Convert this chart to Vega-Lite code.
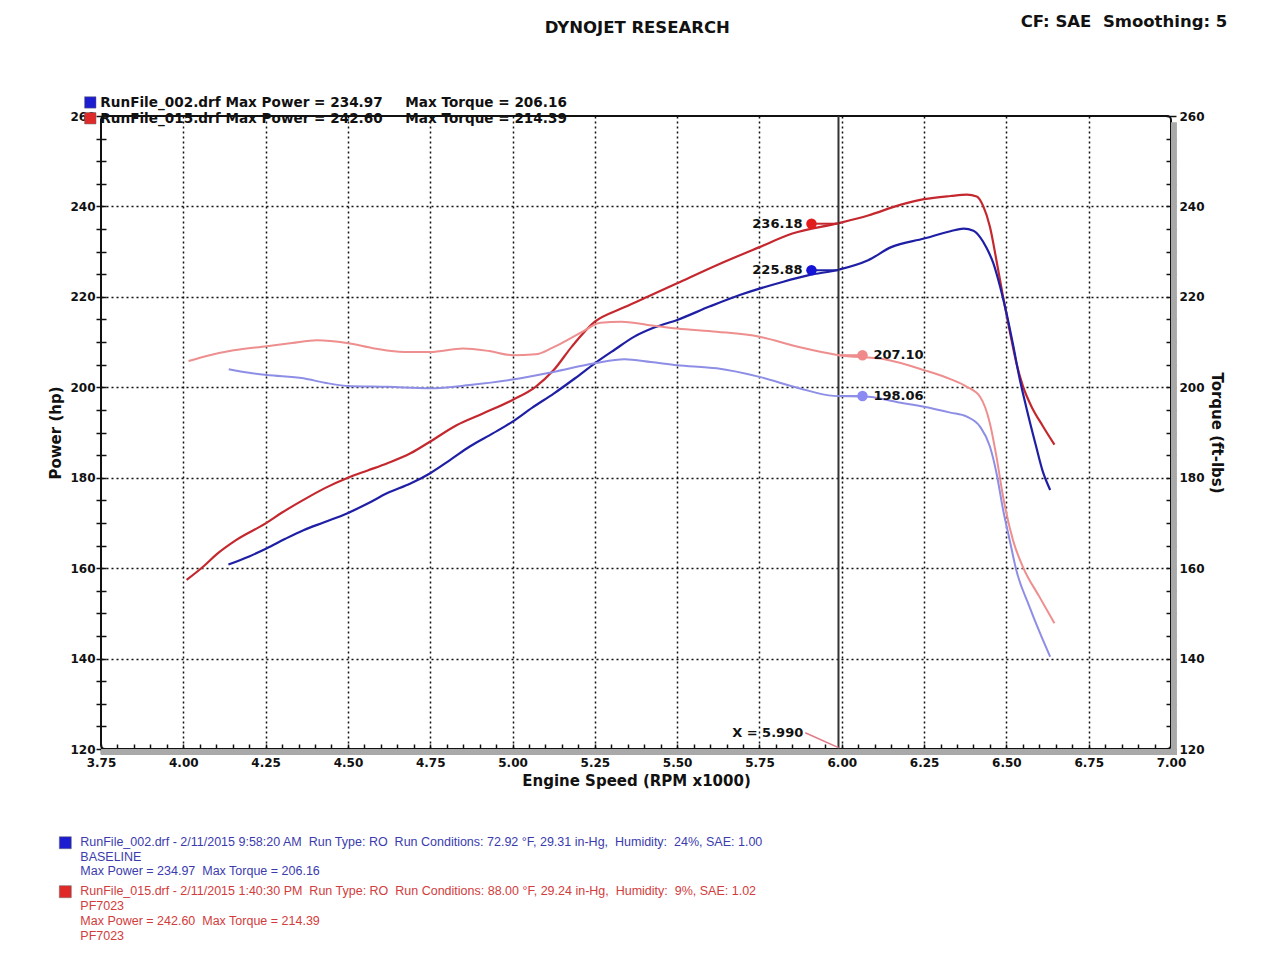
{
  "$schema": "https://vega.github.io/schema/vega-lite/v6.json",
  "width": 1070,
  "height": 633,
  "autosize": {"type": "none"},
  "padding": {"left": 101, "top": 116, "right": 108, "bottom": 211},
  "background": "white",
  "config": {
    "view": {"stroke": "#111", "strokeWidth": 2, "cornerRadius": 4},
    "font": "DejaVu Sans"
  },
  "datasets": {
    "curves": [
      {"rpm": 4.01, "value": 157.4, "series": "015 Power", "kind": "Power"},
      {"rpm": 4.06, "value": 160.3, "series": "015 Power", "kind": "Power"},
      {"rpm": 4.10, "value": 163.0, "series": "015 Power", "kind": "Power"},
      {"rpm": 4.16, "value": 166.2, "series": "015 Power", "kind": "Power"},
      {"rpm": 4.25, "value": 169.9, "series": "015 Power", "kind": "Power"},
      {"rpm": 4.30, "value": 172.3, "series": "015 Power", "kind": "Power"},
      {"rpm": 4.365, "value": 175.1, "series": "015 Power", "kind": "Power"},
      {"rpm": 4.43, "value": 177.7, "series": "015 Power", "kind": "Power"},
      {"rpm": 4.50, "value": 180.0, "series": "015 Power", "kind": "Power"},
      {"rpm": 4.56, "value": 181.6, "series": "015 Power", "kind": "Power"},
      {"rpm": 4.62, "value": 183.2, "series": "015 Power", "kind": "Power"},
      {"rpm": 4.69, "value": 185.4, "series": "015 Power", "kind": "Power"},
      {"rpm": 4.75, "value": 188.0, "series": "015 Power", "kind": "Power"},
      {"rpm": 4.83, "value": 191.6, "series": "015 Power", "kind": "Power"},
      {"rpm": 4.91, "value": 194.2, "series": "015 Power", "kind": "Power"},
      {"rpm": 5.00, "value": 197.2, "series": "015 Power", "kind": "Power"},
      {"rpm": 5.07, "value": 200.1, "series": "015 Power", "kind": "Power"},
      {"rpm": 5.125, "value": 203.8, "series": "015 Power", "kind": "Power"},
      {"rpm": 5.18, "value": 209.0, "series": "015 Power", "kind": "Power"},
      {"rpm": 5.25, "value": 214.5, "series": "015 Power", "kind": "Power"},
      {"rpm": 5.33, "value": 217.4, "series": "015 Power", "kind": "Power"},
      {"rpm": 5.41, "value": 220.0, "series": "015 Power", "kind": "Power"},
      {"rpm": 5.50, "value": 223.0, "series": "015 Power", "kind": "Power"},
      {"rpm": 5.62, "value": 227.0, "series": "015 Power", "kind": "Power"},
      {"rpm": 5.75, "value": 231.0, "series": "015 Power", "kind": "Power"},
      {"rpm": 5.85, "value": 234.0, "series": "015 Power", "kind": "Power"},
      {"rpm": 5.99, "value": 236.3, "series": "015 Power", "kind": "Power"},
      {"rpm": 6.08, "value": 238.0, "series": "015 Power", "kind": "Power"},
      {"rpm": 6.18, "value": 240.4, "series": "015 Power", "kind": "Power"},
      {"rpm": 6.25, "value": 241.6, "series": "015 Power", "kind": "Power"},
      {"rpm": 6.33, "value": 242.3, "series": "015 Power", "kind": "Power"},
      {"rpm": 6.38, "value": 242.6, "series": "015 Power", "kind": "Power"},
      {"rpm": 6.41, "value": 242.2, "series": "015 Power", "kind": "Power"},
      {"rpm": 6.43, "value": 240.0, "series": "015 Power", "kind": "Power"},
      {"rpm": 6.45, "value": 235.5, "series": "015 Power", "kind": "Power"},
      {"rpm": 6.47, "value": 228.0, "series": "015 Power", "kind": "Power"},
      {"rpm": 6.49, "value": 220.0, "series": "015 Power", "kind": "Power"},
      {"rpm": 6.51, "value": 212.5, "series": "015 Power", "kind": "Power"},
      {"rpm": 6.53, "value": 205.5, "series": "015 Power", "kind": "Power"},
      {"rpm": 6.55, "value": 200.3, "series": "015 Power", "kind": "Power"},
      {"rpm": 6.58, "value": 195.2, "series": "015 Power", "kind": "Power"},
      {"rpm": 6.61, "value": 191.5, "series": "015 Power", "kind": "Power"},
      {"rpm": 6.646, "value": 187.3, "series": "015 Power", "kind": "Power"},

      {"rpm": 4.137, "value": 160.8, "series": "002 Power", "kind": "Power"},
      {"rpm": 4.20, "value": 162.6, "series": "002 Power", "kind": "Power"},
      {"rpm": 4.254, "value": 164.4, "series": "002 Power", "kind": "Power"},
      {"rpm": 4.31, "value": 166.5, "series": "002 Power", "kind": "Power"},
      {"rpm": 4.365, "value": 168.4, "series": "002 Power", "kind": "Power"},
      {"rpm": 4.43, "value": 170.2, "series": "002 Power", "kind": "Power"},
      {"rpm": 4.497, "value": 172.1, "series": "002 Power", "kind": "Power"},
      {"rpm": 4.56, "value": 174.3, "series": "002 Power", "kind": "Power"},
      {"rpm": 4.62, "value": 176.6, "series": "002 Power", "kind": "Power"},
      {"rpm": 4.69, "value": 178.7, "series": "002 Power", "kind": "Power"},
      {"rpm": 4.75, "value": 181.0, "series": "002 Power", "kind": "Power"},
      {"rpm": 4.81, "value": 183.9, "series": "002 Power", "kind": "Power"},
      {"rpm": 4.87, "value": 186.9, "series": "002 Power", "kind": "Power"},
      {"rpm": 4.94, "value": 189.8, "series": "002 Power", "kind": "Power"},
      {"rpm": 5.00, "value": 192.4, "series": "002 Power", "kind": "Power"},
      {"rpm": 5.06, "value": 195.5, "series": "002 Power", "kind": "Power"},
      {"rpm": 5.125, "value": 198.6, "series": "002 Power", "kind": "Power"},
      {"rpm": 5.19, "value": 202.0, "series": "002 Power", "kind": "Power"},
      {"rpm": 5.25, "value": 205.3, "series": "002 Power", "kind": "Power"},
      {"rpm": 5.31, "value": 208.3, "series": "002 Power", "kind": "Power"},
      {"rpm": 5.37, "value": 211.2, "series": "002 Power", "kind": "Power"},
      {"rpm": 5.43, "value": 213.2, "series": "002 Power", "kind": "Power"},
      {"rpm": 5.50, "value": 214.9, "series": "002 Power", "kind": "Power"},
      {"rpm": 5.60, "value": 217.9, "series": "002 Power", "kind": "Power"},
      {"rpm": 5.69, "value": 220.4, "series": "002 Power", "kind": "Power"},
      {"rpm": 5.82, "value": 223.3, "series": "002 Power", "kind": "Power"},
      {"rpm": 5.90, "value": 224.8, "series": "002 Power", "kind": "Power"},
      {"rpm": 5.99, "value": 226.0, "series": "002 Power", "kind": "Power"},
      {"rpm": 6.08, "value": 228.1, "series": "002 Power", "kind": "Power"},
      {"rpm": 6.15, "value": 231.0, "series": "002 Power", "kind": "Power"},
      {"rpm": 6.25, "value": 232.9, "series": "002 Power", "kind": "Power"},
      {"rpm": 6.33, "value": 234.5, "series": "002 Power", "kind": "Power"},
      {"rpm": 6.37, "value": 235.1, "series": "002 Power", "kind": "Power"},
      {"rpm": 6.40, "value": 234.6, "series": "002 Power", "kind": "Power"},
      {"rpm": 6.42, "value": 233.2, "series": "002 Power", "kind": "Power"},
      {"rpm": 6.44, "value": 230.8, "series": "002 Power", "kind": "Power"},
      {"rpm": 6.46, "value": 227.5, "series": "002 Power", "kind": "Power"},
      {"rpm": 6.48, "value": 222.5, "series": "002 Power", "kind": "Power"},
      {"rpm": 6.50, "value": 216.5, "series": "002 Power", "kind": "Power"},
      {"rpm": 6.52, "value": 209.5, "series": "002 Power", "kind": "Power"},
      {"rpm": 6.54, "value": 202.0, "series": "002 Power", "kind": "Power"},
      {"rpm": 6.56, "value": 195.7, "series": "002 Power", "kind": "Power"},
      {"rpm": 6.59, "value": 187.0, "series": "002 Power", "kind": "Power"},
      {"rpm": 6.61, "value": 181.5, "series": "002 Power", "kind": "Power"},
      {"rpm": 6.633, "value": 177.3, "series": "002 Power", "kind": "Power"},

      {"rpm": 4.016, "value": 205.8, "series": "015 Torque", "kind": "Torque"},
      {"rpm": 4.08, "value": 207.1, "series": "015 Torque", "kind": "Torque"},
      {"rpm": 4.153, "value": 208.2, "series": "015 Torque", "kind": "Torque"},
      {"rpm": 4.254, "value": 209.1, "series": "015 Torque", "kind": "Torque"},
      {"rpm": 4.33, "value": 209.8, "series": "015 Torque", "kind": "Torque"},
      {"rpm": 4.406, "value": 210.4, "series": "015 Torque", "kind": "Torque"},
      {"rpm": 4.497, "value": 209.8, "series": "015 Torque", "kind": "Torque"},
      {"rpm": 4.58, "value": 208.6, "series": "015 Torque", "kind": "Torque"},
      {"rpm": 4.67, "value": 207.8, "series": "015 Torque", "kind": "Torque"},
      {"rpm": 4.75, "value": 207.8, "series": "015 Torque", "kind": "Torque"},
      {"rpm": 4.85, "value": 208.6, "series": "015 Torque", "kind": "Torque"},
      {"rpm": 4.93, "value": 208.0, "series": "015 Torque", "kind": "Torque"},
      {"rpm": 5.00, "value": 207.1, "series": "015 Torque", "kind": "Torque"},
      {"rpm": 5.07, "value": 207.3, "series": "015 Torque", "kind": "Torque"},
      {"rpm": 5.12, "value": 208.7, "series": "015 Torque", "kind": "Torque"},
      {"rpm": 5.165, "value": 210.4, "series": "015 Torque", "kind": "Torque"},
      {"rpm": 5.21, "value": 212.2, "series": "015 Torque", "kind": "Torque"},
      {"rpm": 5.267, "value": 214.3, "series": "015 Torque", "kind": "Torque"},
      {"rpm": 5.33, "value": 214.5, "series": "015 Torque", "kind": "Torque"},
      {"rpm": 5.41, "value": 213.8, "series": "015 Torque", "kind": "Torque"},
      {"rpm": 5.50, "value": 213.0, "series": "015 Torque", "kind": "Torque"},
      {"rpm": 5.62, "value": 212.3, "series": "015 Torque", "kind": "Torque"},
      {"rpm": 5.75, "value": 211.2, "series": "015 Torque", "kind": "Torque"},
      {"rpm": 5.87, "value": 208.9, "series": "015 Torque", "kind": "Torque"},
      {"rpm": 5.99, "value": 207.1, "series": "015 Torque", "kind": "Torque"},
      {"rpm": 6.13, "value": 206.2, "series": "015 Torque", "kind": "Torque"},
      {"rpm": 6.25, "value": 203.8, "series": "015 Torque", "kind": "Torque"},
      {"rpm": 6.33, "value": 201.8, "series": "015 Torque", "kind": "Torque"},
      {"rpm": 6.38, "value": 200.1, "series": "015 Torque", "kind": "Torque"},
      {"rpm": 6.42, "value": 197.9, "series": "015 Torque", "kind": "Torque"},
      {"rpm": 6.45, "value": 192.0, "series": "015 Torque", "kind": "Torque"},
      {"rpm": 6.47, "value": 184.6, "series": "015 Torque", "kind": "Torque"},
      {"rpm": 6.49, "value": 175.8, "series": "015 Torque", "kind": "Torque"},
      {"rpm": 6.52, "value": 166.2, "series": "015 Torque", "kind": "Torque"},
      {"rpm": 6.55, "value": 160.3, "series": "015 Torque", "kind": "Torque"},
      {"rpm": 6.60, "value": 153.7, "series": "015 Torque", "kind": "Torque"},
      {"rpm": 6.646, "value": 147.8, "series": "015 Torque", "kind": "Torque"},

      {"rpm": 4.138, "value": 204.0, "series": "002 Torque", "kind": "Torque"},
      {"rpm": 4.20, "value": 203.2, "series": "002 Torque", "kind": "Torque"},
      {"rpm": 4.254, "value": 202.7, "series": "002 Torque", "kind": "Torque"},
      {"rpm": 4.365, "value": 202.0, "series": "002 Torque", "kind": "Torque"},
      {"rpm": 4.43, "value": 201.0, "series": "002 Torque", "kind": "Torque"},
      {"rpm": 4.497, "value": 200.3, "series": "002 Torque", "kind": "Torque"},
      {"rpm": 4.62, "value": 200.1, "series": "002 Torque", "kind": "Torque"},
      {"rpm": 4.75, "value": 199.8, "series": "002 Torque", "kind": "Torque"},
      {"rpm": 4.87, "value": 200.5, "series": "002 Torque", "kind": "Torque"},
      {"rpm": 5.00, "value": 201.7, "series": "002 Torque", "kind": "Torque"},
      {"rpm": 5.125, "value": 203.4, "series": "002 Torque", "kind": "Torque"},
      {"rpm": 5.25, "value": 205.3, "series": "002 Torque", "kind": "Torque"},
      {"rpm": 5.34, "value": 206.2, "series": "002 Torque", "kind": "Torque"},
      {"rpm": 5.42, "value": 205.6, "series": "002 Torque", "kind": "Torque"},
      {"rpm": 5.50, "value": 204.9, "series": "002 Torque", "kind": "Torque"},
      {"rpm": 5.62, "value": 204.2, "series": "002 Torque", "kind": "Torque"},
      {"rpm": 5.75, "value": 202.3, "series": "002 Torque", "kind": "Torque"},
      {"rpm": 5.87, "value": 199.8, "series": "002 Torque", "kind": "Torque"},
      {"rpm": 5.975, "value": 198.1, "series": "002 Torque", "kind": "Torque"},
      {"rpm": 6.08, "value": 197.9, "series": "002 Torque", "kind": "Torque"},
      {"rpm": 6.17, "value": 196.7, "series": "002 Torque", "kind": "Torque"},
      {"rpm": 6.25, "value": 195.7, "series": "002 Torque", "kind": "Torque"},
      {"rpm": 6.33, "value": 194.4, "series": "002 Torque", "kind": "Torque"},
      {"rpm": 6.38, "value": 193.5, "series": "002 Torque", "kind": "Torque"},
      {"rpm": 6.42, "value": 191.3, "series": "002 Torque", "kind": "Torque"},
      {"rpm": 6.45, "value": 186.9, "series": "002 Torque", "kind": "Torque"},
      {"rpm": 6.47, "value": 181.0, "series": "002 Torque", "kind": "Torque"},
      {"rpm": 6.49, "value": 172.9, "series": "002 Torque", "kind": "Torque"},
      {"rpm": 6.51, "value": 166.2, "series": "002 Torque", "kind": "Torque"},
      {"rpm": 6.53, "value": 159.6, "series": "002 Torque", "kind": "Torque"},
      {"rpm": 6.57, "value": 151.5, "series": "002 Torque", "kind": "Torque"},
      {"rpm": 6.60, "value": 146.0, "series": "002 Torque", "kind": "Torque"},
      {"rpm": 6.633, "value": 140.4, "series": "002 Torque", "kind": "Torque"}
    ],
    "cursor": [
      {"series": "015 Power", "kind": "Power", "value": 236.18},
      {"series": "002 Power", "kind": "Power", "value": 225.88},
      {"series": "015 Torque", "kind": "Torque", "value": 207.10},
      {"series": "002 Torque", "kind": "Torque", "value": 198.06}
    ]
  },
  "layer": [
    {
      "layer": [
        {
          "data": {"values": [{}]},
          "mark": {"type": "rect", "color": "#a9a9a9"},
          "encoding": {
            "x": {"datum": 3.75, "type": "quantitative"},
            "x2": {"datum": 7.018},
            "y": {"datum": 120, "type": "quantitative"},
            "y2": {"datum": 118.67}
          }
        },
        {
          "data": {"values": [{}]},
          "mark": {"type": "rect", "color": "#a9a9a9"},
          "encoding": {
            "x": {"datum": 7.0, "type": "quantitative"},
            "x2": {"datum": 7.018},
            "y": {"datum": 118.67, "type": "quantitative"},
            "y2": {"datum": 258.6}
          }
        },
        {
          "data": {"name": "curves"},
          "transform": [{"filter": "datum.kind == 'Power'"}],
          "mark": {"type": "line", "interpolate": "monotone", "strokeWidth": 2.2},
          "encoding": {
            "x": {
              "field": "rpm", "type": "quantitative",
              "scale": {"domain": [3.75, 7.0], "nice": false, "zero": false},
              "axis": {
                "orient": "bottom",
                "values": [3.75,3.8,3.85,3.9,3.95,4,4.05,4.1,4.15,4.2,4.25,4.3,4.35,4.4,4.45,4.5,4.55,4.6,4.65,4.7,4.75,4.8,4.85,4.9,4.95,5,5.05,5.1,5.15,5.2,5.25,5.3,5.35,5.4,5.45,5.5,5.55,5.6,5.65,5.7,5.75,5.8,5.85,5.9,5.95,6,6.05,6.1,6.15,6.2,6.25,6.3,6.35,6.4,6.45,6.5,6.55,6.6,6.65,6.7,6.75,6.8,6.85,6.9,6.95,7],
                "tickCount": 200,
                "offset": -5, "tickSize": 10, "tickColor": "#111", "tickWidth": 1.5,
                "domain": false,
                "labelExpr": "abs(datum.value*4 - round(datum.value*4)) < 0.01 ? format(datum.value, '.2f') : ''",
                "labelFont": "DejaVu Sans", "labelFontWeight": "bold", "labelFontSize": 12,
                "labelColor": "#111", "labelPadding": 3, "labelOverlap": false, "labelFlush": false, "labelBound": false,
                "grid": true, "gridColor": "#111", "gridDash": [2, 3], "gridWidth": 1.5,
                "gridOpacity": {"condition": {"test": "abs(datum.value*4 - round(datum.value*4)) < 0.01 && datum.value > 3.8 && datum.value < 6.95", "value": 1}, "value": 0},
                "title": "Engine Speed (RPM x1000)",
                "titleFont": "DejaVu Sans", "titleFontSize": 15, "titleFontWeight": "bold",
                "titleColor": "#111", "titlePadding": 5
              }
            },
            "y": {
              "field": "value", "type": "quantitative",
              "scale": {"domain": [120, 260], "nice": false, "zero": false},
              "axis": {
                "orient": "left",
                "values": [120,125,130,135,140,145,150,155,160,165,170,175,180,185,190,195,200,205,210,215,220,225,230,235,240,245,250,255,260],
                "tickCount": 200,
                "offset": -5, "tickSize": 10, "tickColor": "#111", "tickWidth": 1.5,
                "domain": false,
                "labelExpr": "datum.value % 20 == 0 ? format(datum.value, 'd') : ''",
                "labelFont": "DejaVu Sans", "labelFontWeight": "bold", "labelFontSize": 12,
                "labelColor": "#111", "labelPadding": 1, "labelOverlap": false, "labelBound": false, "labelFlush": false,
                "grid": true, "gridColor": "#111", "gridDash": [2, 3], "gridWidth": 1.5,
                "gridOpacity": {"condition": {"test": "datum.value % 20 == 0 && datum.value > 120 && datum.value < 260", "value": 1}, "value": 0},
                "title": "Power (hp)",
                "titleFont": "DejaVu Sans", "titleFontSize": 15, "titleFontWeight": "bold",
                "titleColor": "#111", "titlePadding": 6
              }
            },
            "color": {
              "field": "series", "type": "nominal",
              "scale": {"domain": ["015 Power", "002 Power", "015 Torque", "002 Torque"], "range": ["#c4282e", "#1f1fa6", "#ee8e8e", "#8e8ee6"]},
              "legend": null
            }
          }
        },
        {
          "data": {"values": [{}]},
          "mark": {"type": "rule", "color": "#333", "strokeWidth": 2},
          "encoding": {"x": {"datum": 5.99, "type": "quantitative"}}
        },
        {
          "data": {"name": "cursor"},
          "transform": [{"filter": "datum.kind == 'Power'"}],
          "mark": {"type": "rule", "strokeWidth": 2, "x2Offset": -27},
          "encoding": {
            "x": {"datum": 5.99, "type": "quantitative"},
            "x2": {"datum": 5.99},
            "y": {"field": "value", "type": "quantitative"},
            "color": {"field": "series", "type": "nominal", "legend": null}
          }
        },
        {
          "data": {"name": "cursor"},
          "transform": [{"filter": "datum.kind == 'Power'"}],
          "mark": {"type": "point", "filled": true, "size": 110, "opacity": 1, "xOffset": -27},
          "encoding": {
            "x": {"datum": 5.99, "type": "quantitative"},
            "y": {"field": "value", "type": "quantitative"},
            "fill": {
              "field": "series", "type": "nominal",
              "scale": {"domain": ["015 Power", "002 Power", "015 Torque", "002 Torque"], "range": ["#e21c1c", "#1414d8", "#f08a8a", "#8a8af2"]},
              "legend": null
            }
          }
        },
        {
          "data": {"name": "cursor"},
          "transform": [{"filter": "datum.kind == 'Power'"}],
          "mark": {"type": "text", "align": "right", "baseline": "middle", "dx": -36, "font": "DejaVu Sans", "fontWeight": "bold", "fontSize": 13, "color": "#111"},
          "encoding": {
            "x": {"datum": 5.99, "type": "quantitative"},
            "y": {"field": "value", "type": "quantitative"},
            "text": {"field": "value", "type": "quantitative", "format": ".2f"}
          }
        },
        {
          "data": {"values": [{}]},
          "mark": {"type": "rule", "color": "#e07a88", "strokeWidth": 1.5},
          "encoding": {
            "x": {"datum": 5.889, "type": "quantitative"},
            "x2": {"datum": 5.99},
            "y": {"datum": 123.6, "type": "quantitative"},
            "y2": {"datum": 120.3}
          }
        },
        {
          "data": {"values": [{}]},
          "mark": {"type": "text", "text": "X = 5.990", "align": "right", "baseline": "middle", "font": "DejaVu Sans", "fontWeight": "bold", "fontSize": 13, "color": "#111"},
          "encoding": {
            "x": {"datum": 5.883, "type": "quantitative"},
            "y": {"datum": 123.6, "type": "quantitative"}
          }
        },
        {
          "data": {"values": [{}]},
          "mark": {"type": "text", "text": "DYNOJET RESEARCH", "align": "center", "baseline": "middle", "font": "DejaVu Sans", "fontWeight": "bold", "fontSize": 16.5, "color": "#111"},
          "encoding": {
            "x": {"datum": 5.379, "type": "quantitative"},
            "y": {"datum": 279.4, "type": "quantitative"}
          }
        },
        {
          "data": {"values": [{}]},
          "mark": {"type": "text", "text": "CF: SAE\u00a0 Smoothing: 5", "align": "right", "baseline": "middle", "font": "DejaVu Sans", "fontWeight": "bold", "fontSize": 16.5, "color": "#111"},
          "encoding": {
            "x": {"datum": 7.171, "type": "quantitative"},
            "y": {"datum": 280.7, "type": "quantitative"}
          }
        },
        {
          "data": {"values": [{}]},
          "mark": {"type": "point", "shape": "square", "filled": true, "size": 130, "opacity": 1, "color": "#1c1cd0", "stroke": "#666", "strokeWidth": 0.5},
          "encoding": {
            "x": {"datum": 3.7175, "type": "quantitative"},
            "y": {"datum": 263.0, "type": "quantitative"}
          }
        },
        {
          "data": {"values": [{}]},
          "mark": {"type": "point", "shape": "square", "filled": true, "size": 130, "opacity": 1, "color": "#e02a2a", "stroke": "#666", "strokeWidth": 0.5},
          "encoding": {
            "x": {"datum": 3.7175, "type": "quantitative"},
            "y": {"datum": 259.5, "type": "quantitative"}
          }
        },
        {
          "data": {"values": [{}]},
          "mark": {"type": "text", "text": "RunFile_002.drf Max Power = 234.97", "align": "left", "baseline": "middle", "font": "DejaVu Sans", "fontWeight": "bold", "fontSize": 13.6, "color": "#111"},
          "encoding": {
            "x": {"datum": 3.748, "type": "quantitative"},
            "y": {"datum": 262.8, "type": "quantitative"}
          }
        },
        {
          "data": {"values": [{}]},
          "mark": {"type": "text", "text": "Max Torque = 206.16", "align": "left", "baseline": "middle", "font": "DejaVu Sans", "fontWeight": "bold", "fontSize": 13.6, "color": "#111"},
          "encoding": {
            "x": {"datum": 4.674, "type": "quantitative"},
            "y": {"datum": 262.8, "type": "quantitative"}
          }
        },
        {
          "data": {"values": [{}]},
          "mark": {"type": "text", "text": "RunFile_015.drf Max Power = 242.60", "align": "left", "baseline": "middle", "font": "DejaVu Sans", "fontWeight": "bold", "fontSize": 13.6, "color": "#111"},
          "encoding": {
            "x": {"datum": 3.748, "type": "quantitative"},
            "y": {"datum": 259.3, "type": "quantitative"}
          }
        },
        {
          "data": {"values": [{}]},
          "mark": {"type": "text", "text": "Max Torque = 214.39", "align": "left", "baseline": "middle", "font": "DejaVu Sans", "fontWeight": "bold", "fontSize": 13.6, "color": "#111"},
          "encoding": {
            "x": {"datum": 4.674, "type": "quantitative"},
            "y": {"datum": 259.3, "type": "quantitative"}
          }
        },
        {
          "data": {"values": [{}]},
          "mark": {"type": "point", "shape": "square", "filled": true, "size": 144, "opacity": 1, "color": "#1c1cd0", "stroke": "#666", "strokeWidth": 0.5},
          "encoding": {
            "x": {"datum": 3.6416, "type": "quantitative"},
            "y": {"datum": 99.27, "type": "quantitative"}
          }
        },
        {
          "data": {"values": [{}]},
          "mark": {"type": "point", "shape": "square", "filled": true, "size": 144, "opacity": 1, "color": "#e02a2a", "stroke": "#666", "strokeWidth": 0.5},
          "encoding": {
            "x": {"datum": 3.6416, "type": "quantitative"},
            "y": {"datum": 88.44, "type": "quantitative"}
          }
        },
        {
          "data": {"values": [{}]},
          "mark": {
            "type": "text",
            "text": ["RunFile_002.drf - 2/11/2015 9:58:20 AM\u00a0 Run Type: RO\u00a0 Run Conditions: 72.92 °F, 29.31 in-Hg,\u00a0 Humidity:\u00a0 24%, SAE: 1.00", "BASELINE", "Max Power = 234.97\u00a0 Max Torque = 206.16"],
            "align": "left", "baseline": "top", "lineHeight": 14.6,
            "font": "Liberation Sans Narrow, Liberation Sans", "fontSize": 12.5, "color": "#3b3bae"
          },
          "encoding": {
            "x": {"datum": 3.6871, "type": "quantitative"},
            "y": {"datum": 100.7, "type": "quantitative"}
          }
        },
        {
          "data": {"values": [{}]},
          "mark": {
            "type": "text",
            "text": ["RunFile_015.drf - 2/11/2015 1:40:30 PM\u00a0 Run Type: RO\u00a0 Run Conditions: 88.00 °F, 29.24 in-Hg,\u00a0 Humidity:\u00a0 9%, SAE: 1.02", "PF7023", "Max Power = 242.60\u00a0 Max Torque = 214.39", "PF7023"],
            "align": "left", "baseline": "top", "lineHeight": 15,
            "font": "Liberation Sans Narrow, Liberation Sans", "fontSize": 12.5, "color": "#d23c3c"
          },
          "encoding": {
            "x": {"datum": 3.6871, "type": "quantitative"},
            "y": {"datum": 89.88, "type": "quantitative"}
          }
        }
      ]
    },
    {
      "layer": [
        {
          "data": {"name": "curves"},
          "transform": [{"filter": "datum.kind == 'Torque'"}],
          "mark": {"type": "line", "interpolate": "monotone", "strokeWidth": 2},
          "encoding": {
            "x": {"field": "rpm", "type": "quantitative", "scale": {"domain": [3.75, 7.0], "nice": false, "zero": false}},
            "y": {
              "field": "value", "type": "quantitative",
              "scale": {"domain": [120, 260], "nice": false, "zero": false},
              "axis": {
                "orient": "right",
                "values": [120,125,130,135,140,145,150,155,160,165,170,175,180,185,190,195,200,205,210,215,220,225,230,235,240,245,250,255,260],
                "tickCount": 200,
                "offset": -5, "tickSize": 10, "tickColor": "#111", "tickWidth": 1.5,
                "domain": false, "grid": false,
                "labelExpr": "datum.value % 20 == 0 ? format(datum.value, 'd') : ''",
                "labelFont": "DejaVu Sans", "labelFontWeight": "bold", "labelFontSize": 12,
                "labelColor": "#111", "labelPadding": 3, "labelOverlap": false, "labelBound": false, "labelFlush": false,
                "title": "Torque (ft-lbs)",
                "titleFont": "DejaVu Sans", "titleFontSize": 15, "titleFontWeight": "bold",
                "titleColor": "#111", "titlePadding": 4
              }
            },
            "color": {
              "field": "series", "type": "nominal",
              "scale": {"domain": ["015 Power", "002 Power", "015 Torque", "002 Torque"], "range": ["#c4282e", "#1f1fa6", "#ee8e8e", "#8e8ee6"]},
              "legend": null
            }
          }
        },
        {
          "data": {"name": "cursor"},
          "transform": [{"filter": "datum.kind == 'Torque'"}],
          "mark": {"type": "rule", "strokeWidth": 2, "x2Offset": 24},
          "encoding": {
            "x": {"datum": 5.99, "type": "quantitative"},
            "x2": {"datum": 5.99},
            "y": {"field": "value", "type": "quantitative"},
            "color": {"field": "series", "type": "nominal", "legend": null}
          }
        },
        {
          "data": {"name": "cursor"},
          "transform": [{"filter": "datum.kind == 'Torque'"}],
          "mark": {"type": "point", "filled": true, "size": 110, "opacity": 1, "xOffset": 24},
          "encoding": {
            "x": {"datum": 5.99, "type": "quantitative"},
            "y": {"field": "value", "type": "quantitative"},
            "fill": {"field": "series", "type": "nominal", "legend": null}
          }
        },
        {
          "data": {"name": "cursor"},
          "transform": [{"filter": "datum.kind == 'Torque'"}],
          "mark": {"type": "text", "align": "left", "baseline": "middle", "dx": 35, "font": "DejaVu Sans", "fontWeight": "bold", "fontSize": 13, "color": "#111"},
          "encoding": {
            "x": {"datum": 5.99, "type": "quantitative"},
            "y": {"field": "value", "type": "quantitative"},
            "text": {"field": "value", "type": "quantitative", "format": ".2f"}
          }
        }
      ]
    }
  ],
  "resolve": {"scale": {"y": "independent"}}
}
